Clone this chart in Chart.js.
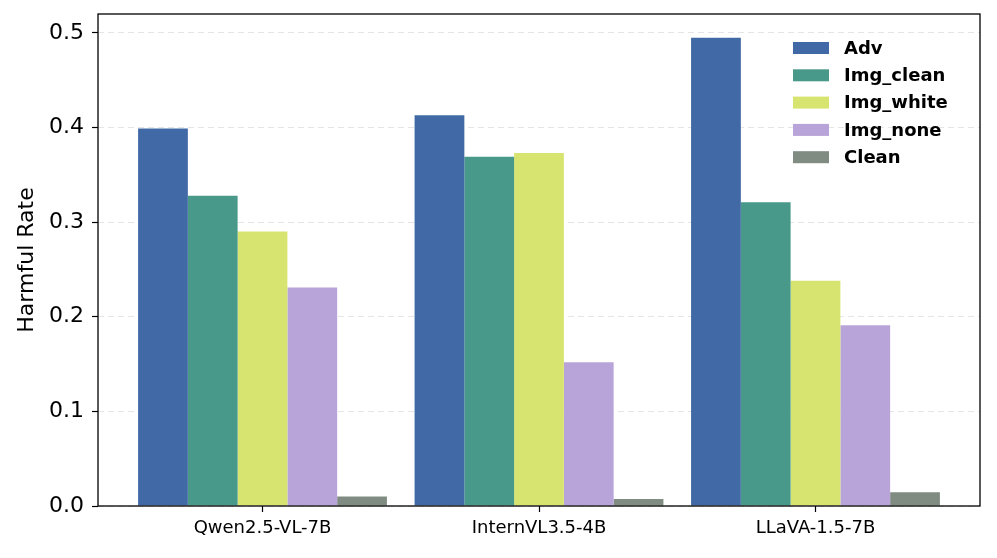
<!DOCTYPE html>
<html>
<head>
<meta charset="utf-8">
<script src="https://cdn.jsdelivr.net/npm/chart.js@4/dist/chart.umd.min.js"></script>
<style>
  html, body { margin: 0; padding: 0; background: #fff; }
  #box { width: 997px; height: 558px; }
</style>
</head>
<body>
<div id="box"><canvas id="myChart" width="997" height="558"></canvas></div>
<script>
// values
const models = ["Qwen2.5-VL-7B", "InternVL3.5-4B", "LLaVA-1.5-7B"];
const seriesNames = ["Adv", "Img_clean", "Img_white", "Img_none", "Clean"];
const adv = [0.399, 0.413, 0.495];
const imgClean = [0.328, 0.369, 0.321];
const imgWhite = [0.290, 0.373, 0.238];
const imgNone = [0.231, 0.152, 0.191];
const clean = [0.010, 0.0075, 0.0145];
const yTicks = [0.0, 0.1, 0.2, 0.3, 0.4, 0.5];

const colors = ["#4169a6", "#48998a", "#d8e470", "#b8a4d8", "#808c82"];
const allValues = [adv, imgClean, imgWhite, imgNone, clean];

const datasets = allValues.map((vals, k) => ({
  label: seriesNames[k],
  data: vals.map((v, i) => ({ x: i, y: v })),
  backgroundColor: colors[k],
  borderWidth: 0,
  categoryPercentage: 0.9,
  barPercentage: 1.0
}));

// frame round the plot + legend in the upper right
const framePlugin = {
  id: "frame",
  afterDraw(chart) {
    const { ctx, chartArea: a } = chart;
    ctx.save();
    ctx.strokeStyle = "#000";
    ctx.lineWidth = 1.3;
    ctx.strokeRect(a.left, a.top, a.right - a.left, a.bottom - a.top);

    const boxX = a.right - 187, firstY = a.top + 34, step = 27.3;
    ctx.font = "bold 18px 'DejaVu Sans'";
    ctx.textBaseline = "middle";
    ctx.textAlign = "left";
    chart.data.datasets.forEach((ds, i) => {
      const y = firstY + i * step;
      ctx.fillStyle = ds.backgroundColor;
      ctx.fillRect(boxX, y - 6, 36, 12);
      ctx.fillStyle = "#000";
      ctx.fillText(ds.label, boxX + 51, y + 1);
    });
    ctx.restore();
  }
};

Chart.defaults.font.family = "'DejaVu Sans'";
Chart.defaults.color = "#000";

const ctx = document.getElementById("myChart").getContext("2d");
window.myChart = new Chart(ctx, {
  type: "bar",
  data: { datasets: datasets },
  plugins: [framePlugin],
  options: {
    responsive: false,
    animation: false,
    layout: { padding: { left: 14, right: 17, top: 14, bottom: 0 } },
    scales: {
      x: {
        type: "linear",
        min: -0.595,
        max: 2.595,
        offset: false,
        afterBuildTicks: (scale) => { scale.ticks = models.map((m, i) => ({ value: i })); },
        afterFit: (scale) => {
          scale.height = 52;
          scale.paddingLeft = 0;
          scale.paddingRight = 0;
        },
        ticks: {
          callback: (v) => models[v],
          font: { size: 18 },
          padding: 6,
          maxRotation: 0,
          autoSkip: false
        },
        grid: {
          offset: false,
          drawOnChartArea: false,
          drawTicks: true,
          tickLength: 6,
          tickColor: "#000",
          tickWidth: 1.2
        },
        border: { display: false }
      },
      y: {
        min: 0,
        max: 0.52,
        afterBuildTicks: (scale) => { scale.ticks = yTicks.map(v => ({ value: v })); },
        afterFit: (scale) => {
          scale.width = 84;
          scale.paddingTop = 0;
          scale.paddingBottom = 0;
        },
        ticks: {
          callback: (v) => v.toFixed(1),
          font: { size: 22 },
          padding: 8
        },
        title: {
          display: true,
          text: "Harmful Rate",
          font: { size: 22 },
          padding: { top: 0, bottom: 4 }
        },
        grid: {
          color: "rgba(0,0,0,0.10)",
          lineWidth: 1,
          drawTicks: true,
          tickLength: 6,
          tickColor: "#000",
          tickWidth: 1.2,
          tickBorderDash: []
        },
        border: { display: false, dash: [6, 4] }
      }
    },
    plugins: {
      legend: { display: false },
      tooltip: { mode: "index", intersect: false }
    }
  }
});
</script>
</body>
</html>
